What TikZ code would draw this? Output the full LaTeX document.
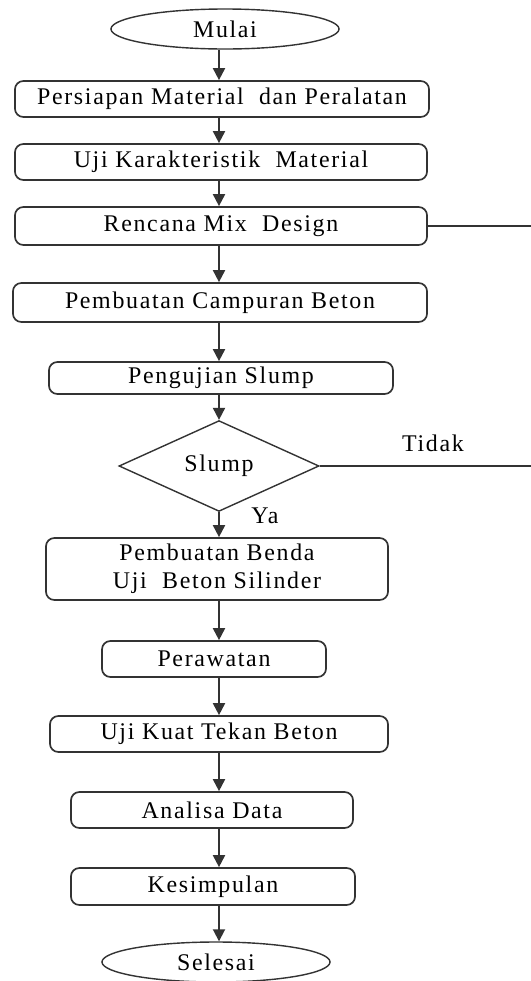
\documentclass[tikz,border=0pt]{standalone}
\usepackage{fontspec}
\setmainfont[LetterSpace=7]{Liberation Serif}
\usetikzlibrary{arrows.meta,shapes.geometric,positioning,calc}

\begin{document}
\begin{tikzpicture}[x=0.025cm,y=-0.025cm,
  font=\fontsize{17}{20}\selectfont,
  proc/.style={draw=black!80, line width=1.2pt, rounded corners=6pt, inner sep=0pt, align=center},
  term/.style={draw=black!80, line width=1pt, ellipse, minimum width=5.7cm, minimum height=1cm, inner sep=0pt},
  arr/.style={-{Triangle[length=3mm,width=3mm]}, line width=1.3pt, draw=black!80}]
\useasboundingbox (0,0) rectangle (531,981);
% Start
\node[term] (mulai) at (225,29) {Mulai};
% Preparation steps
\node[proc, minimum width=10.35cm, minimum height=0.9cm] (persiapan) at (222,99) {Persiapan Material\ \ dan Peralatan};
\node[proc, minimum width=10.3cm, minimum height=0.9cm] (karakter) at (221,162) {Uji Karakteristik\ \ Material};
\node[proc, minimum width=10.3cm, minimum height=0.95cm] (rencana) at (221,226) {Rencana Mix\ \ Design};
\node[proc, minimum width=10.35cm, minimum height=0.975cm] (campuran) at (220,302.5) {Pembuatan Campuran Beton};
\node[proc, minimum width=8.6cm, minimum height=0.8cm] (pengujian) at (221,378) {Pengujian Slump};
% Decision
\node[draw=black!80, line width=1pt, diamond, minimum width=5cm, minimum height=1.6cm, inner sep=0pt] (slump) at (219,466) {Slump};
\node (tidak) at (433,443) {Tidak};
\node (ya) at (265,516) {Ya};
% Specimen and testing
\node[proc, minimum width=8.55cm, minimum height=1.55cm] (benda) at (217,569) {Pembuatan Benda\\Uji\ \ Beton Silinder};
\node[proc, minimum width=5.6cm, minimum height=0.9cm] (rawat) at (214,659) {Perawatan};
\node[proc, minimum width=8.45cm, minimum height=0.9cm] (tekan) at (219,734) {Uji Kuat Tekan Beton};
\node[proc, minimum width=7.05cm, minimum height=0.9cm] (analisa) at (212,810) {Analisa Data};
\node[proc, minimum width=7.1cm, minimum height=0.925cm] (simpul) at (213,886.5) {Kesimpulan};
% End
\node[term] (selesai) at (216,962) {Selesai};
% Connectors
\coordinate (spine) at (219,0);
\coordinate (kanan) at (531,0);
\draw[arr] (mulai.south -| spine) -- (persiapan.north -| spine);
\foreach \a/\b in {persiapan/karakter,karakter/rencana,rencana/campuran,campuran/pengujian,pengujian/slump,slump/benda,benda/rawat,rawat/tekan,tekan/analisa,analisa/simpul,simpul/selesai}
  \draw[arr] (\a.south -| spine) -- (\b.north -| spine);
% Lines out to the right
\draw[black!80, line width=1pt] (rencana.east) -- (rencana.east -| kanan);
\draw[black!80, line width=1pt] (slump.east) -- (slump.east -| kanan);
\end{tikzpicture}
\end{document}
